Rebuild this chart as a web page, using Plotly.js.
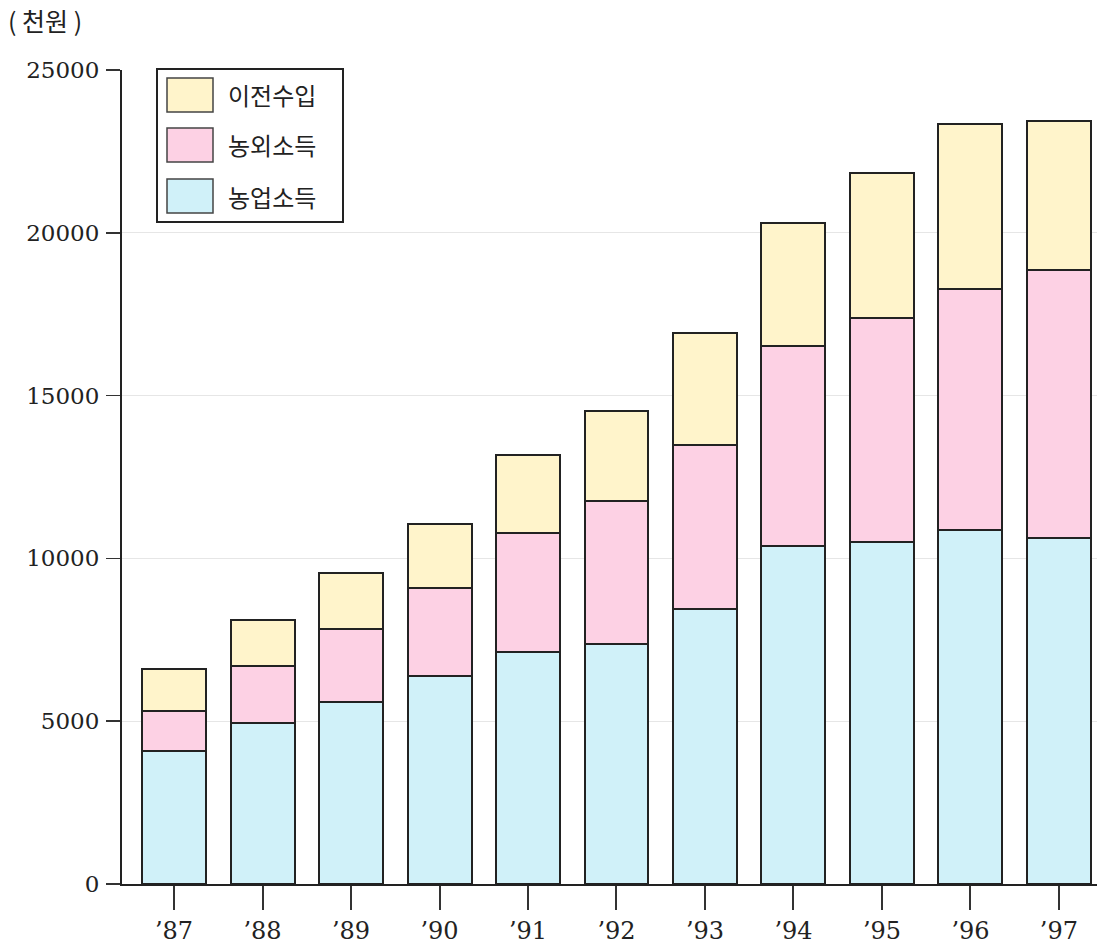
<!DOCTYPE html>
<html>
<head>
<meta charset="utf-8">
<script src="https://cdn.plot.ly/plotly-3.0.1.min.js"></script>
<style>
html,body{margin:0;padding:0;background:#fff;}
#chart{width:1097px;height:947px;}
</style>
</head>
<body>
<div id="chart"></div>
<script>
// ---- data ----
const years = ["’87","’88","’89","’90","’91","’92","’93","’94","’95","’96","’97"];
const farmIncome     = [4077, 4951, 5585, 6385, 7123, 7360, 8458, 10385, 10489, 10868, 10612];
const offFarmIncome  = [1231, 1741, 2258, 2720, 3643, 4400, 5034, 6135, 6893, 7415, 8256];
const transferIncome = [1304, 1416, 1702, 1947, 2409, 2778, 3437, 3784, 4440, 5046, 4575];
const seriesNames = ["농업소득", "농외소득", "이전수입"];
const yTickVals = [0, 5000, 10000, 15000, 20000, 25000];
const unitLabel = "( 천원 )";

// ---- styles ----
const colors = ["#d0f1f9", "#fdd1e4", "#fff4cb"];
const outline = {color: "#222", width: 2};
const W = 1097, H = 947;
const M = {l: 122, r: 0, t: 70, b: 63};
const PW = W - M.l - M.r, PH = H - M.t - M.b;
const px = x => (x - M.l) / PW;
const py = y => (H - M.b - y) / PH;

const series = [farmIncome, offFarmIncome, transferIncome];
const traces = series.map((vals, i) => ({
  type: "bar",
  name: seriesNames[i],
  x: years,
  y: vals,
  marker: {color: colors[i], line: outline},
  showlegend: false,
  hoverinfo: "x+y+name"
}));

// custom legend (order: top = last series)
const shapes = [{
  type: "rect", xref: "paper", yref: "paper",
  x0: px(157), x1: px(343), y0: py(222), y1: py(69),
  line: {color: "#222", width: 2}, fillcolor: "rgba(255,255,255,1)"
}];
const annotations = [{
  xref: "paper", yref: "paper", x: px(6), y: py(20), xanchor: "left", yanchor: "middle",
  text: unitLabel, showarrow: false,
  font: {family: "Noto Sans CJK KR", size: 25, color: "#222"}
}];
const legendOrder = [2, 1, 0];
const rowTops = [78, 128, 179];
legendOrder.forEach((si, r) => {
  const top = rowTops[r];
  shapes.push({
    type: "rect", xref: "paper", yref: "paper",
    x0: px(167), x1: px(213), y0: py(top + 34), y1: py(top),
    line: {color: "#444", width: 1.5}, fillcolor: colors[si]
  });
  annotations.push({
    xref: "paper", yref: "paper", x: px(226), y: py(top + 17),
    xanchor: "left", yanchor: "middle", showarrow: false,
    text: seriesNames[si],
    font: {family: "Noto Sans CJK KR", size: 24, color: "#222"}
  });
});

const layout = {
  width: W, height: H,
  margin: M,
  paper_bgcolor: "#fff", plot_bgcolor: "#fff",
  barmode: "stack",
  bargap: 0.277,
  font: {family: "DejaVu Serif", size: 23, color: "#222"},
  xaxis: {
    type: "category",
    range: [-0.588, 10.43],
    showline: true, linecolor: "#222", linewidth: 2,
    ticks: "outside", ticklen: 24, tickwidth: 2, tickcolor: "#333",
    showgrid: false, zeroline: false,
    tickfont: {family: "DejaVu Serif", size: 24, color: "#222"}
  },
  yaxis: {
    range: [0, 25000],
    tickvals: yTickVals,
    ticktext: yTickVals.map(String),
    showline: true, linecolor: "#222", linewidth: 2,
    ticks: "outside", ticklen: 14, tickwidth: 1.5, tickcolor: "#333",
    ticklabelstandoff: 2,
    showgrid: true, gridcolor: "#e6e6e6", gridwidth: 1,
    zeroline: false,
    tickfont: {family: "DejaVu Serif", size: 23, color: "#222"}
  },
  shapes: shapes,
  annotations: annotations
};

Plotly.newPlot("chart", traces, layout, {displayModeBar: false, staticPlot: true});
</script>
</body>
</html>
